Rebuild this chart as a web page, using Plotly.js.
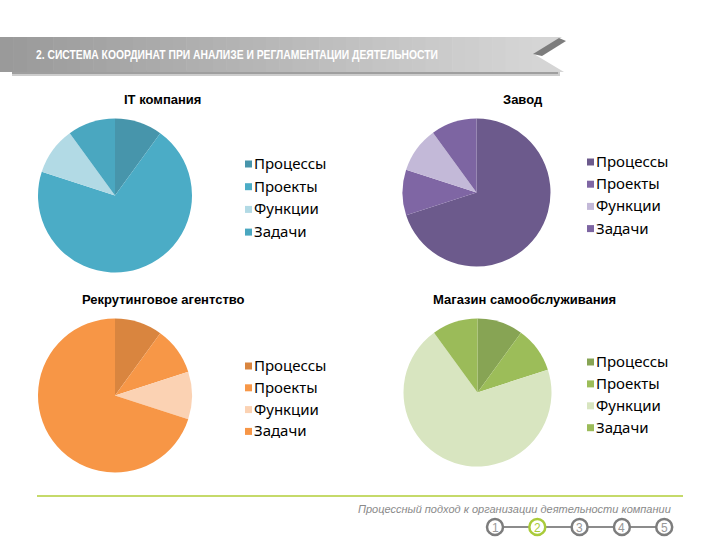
<!DOCTYPE html>
<html>
<head>
<meta charset="utf-8">
<script src="https://cdn.plot.ly/plotly-3.0.1.min.js"></script>
<style>html,body{margin:0;padding:0;background:#fff;}#chart{width:720px;height:540px;}</style>
</head>
<body>
<div id="chart"></div>
<script>
// ---- data ----
const categories = ['Процессы', 'Проекты', 'Функции', 'Задачи'];
const chartTitles = ['IT компания', 'Завод', 'Рекрутинговое агентство', 'Магазин самообслуживания'];
const itValues = [10, 70, 10, 10];
const factoryValues = [70, 10, 10, 10];
const recruitValues = [10, 10, 10, 70];
const shopValues = [10, 10, 70, 10];
const headerText = '2. СИСТЕМА КООРДИНАТ ПРИ АНАЛИЗЕ И РЕГЛАМЕНТАЦИИ ДЕЯТЕЛЬНОСТИ';
const footerText = 'Процессный подход к организации деятельности компании';
const stepLabels = ['1', '2', '3', '4', '5'];
const activeStep = '2';

// ---- styling ----
const W = 720, H = 540;
const px = x => x / W;
const py = y => 1 - y / H;

const palettes = [
  ['#4795AB', '#4BACC6', '#B2DAE5', '#4AA7C0'],
  ['#6C5A8C', '#7F66A4', '#C3B9D8', '#7D65A2'],
  ['#D9853F', '#F79747', '#FBD2B3', '#F79646'],
  ['#87A454', '#9CBD59', '#D8E5C0', '#9BBB59']
];
const allValues = [itValues, factoryValues, recruitValues, shopValues];
// pie centre (px), radius (px)
const pieGeom = [
  {cx: 115, cy: 195.5, r: 77},
  {cx: 476.5, cy: 192.5, r: 74},
  {cx: 115, cy: 395.5, r: 77},
  {cx: 477.5, cy: 392.5, r: 74}
];
const titlePos = [[162, 100], [523, 100], [163, 299], [524, 299]];
// legend: square left x, text left x, first row centre y, row step
const legendGeom = [
  {sx: 245, tx: 254, y0: 163, dy: 22.7},
  {sx: 587, tx: 596, y0: 161, dy: 22.2},
  {sx: 245, tx: 254, y0: 365, dy: 21.8},
  {sx: 587, tx: 596, y0: 361, dy: 21.9}
];

const traces = allValues.map((vals, i) => {
  const g = pieGeom[i];
  return {
    type: 'pie',
    labels: categories,
    values: vals,
    sort: false,
    direction: 'clockwise',
    rotation: 0,
    textinfo: 'none',
    hoverinfo: 'label+percent',
    marker: {colors: palettes[i], line: {width: 0}},
    domain: {x: [px(g.cx - g.r), px(g.cx + g.r)], y: [py(g.cy + g.r), py(g.cy - g.r)]},
    name: chartTitles[i],
    showlegend: false
  };
});

const shapes = [];
const annotations = [];

// header banner (gradient strips)
const bannerL = 0, bannerR = 532, bTop = 37, bBot = 72;
shapes.push({type: 'rect', xref: 'paper', yref: 'paper', x0: px(12), x1: px(560), y0: py(76), y1: py(70),
  fillcolor: 'rgba(90,90,90,0.3)', line: {width: 0}, layer: 'below'});
shapes.push({type: 'rect', xref: 'paper', yref: 'paper', x0: px(12), x1: px(558), y0: py(74), y1: py(71),
  fillcolor: 'rgba(90,90,90,0.4)', line: {width: 0}, layer: 'below'});
const nStrips = 40;
for (let k = 0; k < nStrips; k++) {
  const t = k / (nStrips - 1);
  const c = Math.round(154 + t * 58);
  const x0 = bannerL + (bannerR - bannerL) * k / nStrips;
  const x1 = bannerL + (bannerR - bannerL) * (k + 1) / nStrips + 0.6;
  shapes.push({type: 'rect', xref: 'paper', yref: 'paper', x0: px(x0), x1: px(x1), y0: py(bBot), y1: py(bTop),
    fillcolor: `rgb(${c},${c},${c})`, line: {width: 0}, layer: 'below'});
}
const toPath = pts => 'M' + pts.map(p => px(p[0]) + ',' + py(p[1])).join(' L') + ' Z';
shapes.push({type: 'path', xref: 'paper', yref: 'paper',
  path: toPath([[bannerR, bTop], [562, bTop], [534, 54], [564, bBot], [bannerR, bBot]]),
  fillcolor: 'rgb(213,213,213)', line: {width: 0}, layer: 'below'});
shapes.push({type: 'path', xref: 'paper', yref: 'paper',
  path: toPath([[533, 54], [559, 38], [566, 41], [542, 56]]),
  fillcolor: 'rgb(125,125,125)', line: {width: 0}, layer: 'below'});

const headerLeft = 36, headerWidth = 402;
annotations.push({text: '<b>' + headerText + '</b>', xref: 'paper', yref: 'paper',
  x: px(headerLeft + headerWidth / 2), y: py(54.5),
  xanchor: 'center', yanchor: 'middle', showarrow: false,
  font: {family: 'Liberation Sans, Arial, sans-serif', size: 13.5, color: '#ffffff'}});

// pie titles
chartTitles.forEach((t, i) => {
  annotations.push({text: '<b>' + t + '</b>', xref: 'paper', yref: 'paper', x: px(titlePos[i][0]), y: py(titlePos[i][1]),
    xanchor: 'center', yanchor: 'middle', showarrow: false,
    font: {family: 'Liberation Sans, Arial, sans-serif', size: 13, color: '#000000'}});
});

// legends (one per pie)
legendGeom.forEach((lg, i) => {
  categories.forEach((c, k) => {
    const yc = lg.y0 + k * lg.dy;
    shapes.push({type: 'rect', xref: 'paper', yref: 'paper', x0: px(lg.sx), x1: px(lg.sx + 7),
      y0: py(yc + 4.5), y1: py(yc - 2.5), fillcolor: palettes[i][k], line: {width: 0}});
    annotations.push({text: c, xref: 'paper', yref: 'paper', x: px(lg.tx), y: py(yc),
      xanchor: 'left', yanchor: 'middle', showarrow: false, xshift: -2,
      font: {family: 'Noto Sans, Open Sans, sans-serif', size: 15, color: '#000000'}});
  });
});

// footer
shapes.push({type: 'line', xref: 'paper', yref: 'paper', x0: px(37), x1: px(683), y0: py(496), y1: py(496),
  line: {color: '#C5DA6A', width: 2}});
annotations.push({text: '<i>' + footerText + '</i>', xref: 'paper', yref: 'paper', x: px(673), y: py(508.5),
  xanchor: 'right', yanchor: 'middle', showarrow: false,
  font: {family: 'Liberation Sans, Arial, sans-serif', size: 11, color: '#8a8a8a'}});

const stepX0 = 495, stepDX = 42.3, stepY = 527, stepR = 8;
stepLabels.forEach((s, k) => {
  const cx = stepX0 + k * stepDX;
  if (k < stepLabels.length - 1) {
    shapes.push({type: 'line', xref: 'paper', yref: 'paper', x0: px(cx + stepR), x1: px(cx + stepDX - stepR),
      y0: py(stepY), y1: py(stepY), line: {color: '#8c8c8c', width: 2}});
  }
  const active = s === activeStep;
  shapes.push({type: 'circle', xref: 'paper', yref: 'paper', x0: px(cx - stepR), x1: px(cx + stepR),
    y0: py(stepY + stepR), y1: py(stepY - stepR), fillcolor: '#ffffff',
    line: {color: active ? '#A9CB3A' : '#7d7d7d', width: 2.5}});
  annotations.push({text: s, xref: 'paper', yref: 'paper', x: px(cx), y: py(stepY + 0.5),
    xanchor: 'center', yanchor: 'middle', showarrow: false,
    font: {family: 'Liberation Sans, Arial, sans-serif', size: 12, color: active ? '#A9CB3A' : '#999999'}});
});

const layout = {
  width: W, height: H,
  margin: {l: 0, r: 0, t: 0, b: 0, pad: 0},
  paper_bgcolor: '#ffffff',
  plot_bgcolor: '#ffffff',
  showlegend: false,
  shapes: shapes,
  annotations: annotations
};

Plotly.newPlot('chart', traces, layout, {staticPlot: true, displayModeBar: false}).then(gd => {
  // condense the banner title to the narrow width of the original
  gd.querySelectorAll('.annotation-text').forEach(el => {
    if (el.textContent === headerText) {
      el.setAttribute('textLength', headerWidth);
      el.setAttribute('lengthAdjust', 'spacingAndGlyphs');
    }
  });
});
</script>
</body>
</html>
